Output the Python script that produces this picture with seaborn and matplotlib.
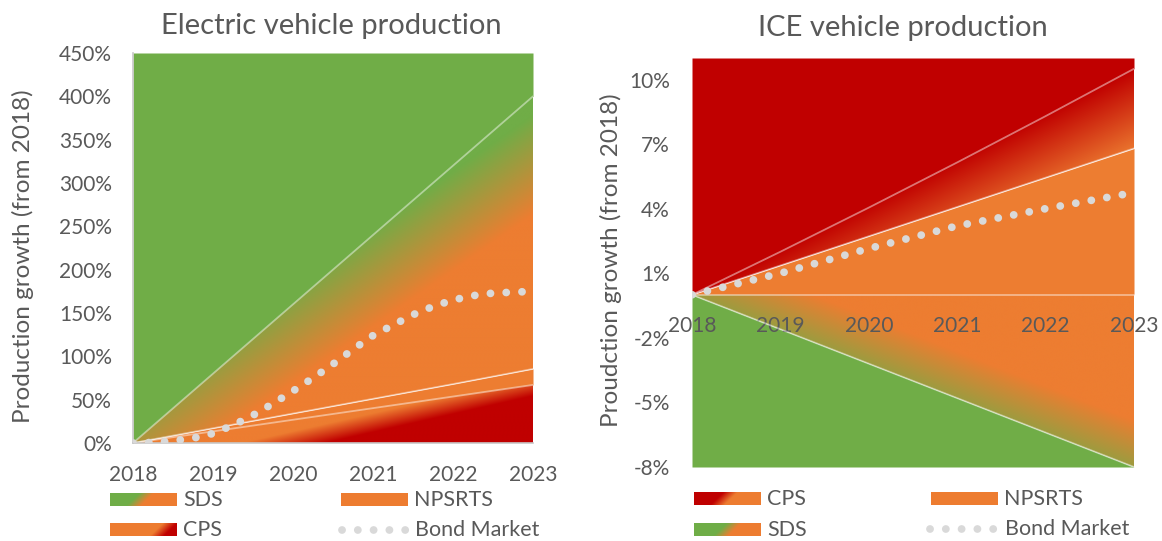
import numpy as np
import pandas as pd
import seaborn as sns
import matplotlib.pyplot as plt
from matplotlib.colors import to_rgb

# ---- data ----
years = [2018, 2019, 2020, 2021, 2022, 2023]

ev_sds = [0, 80, 160, 240, 320, 400]
ev_npsrts = [0, 17, 34, 51, 68, 85.5]
ev_cps = [0, 13.4, 26.8, 40.2, 53.6, 67]
# bond market curve, read at quarterly steps
ev_bond_years = np.linspace(2018, 2023, 21)
ev_bond = [0, 0.6, 2.5, 5.5, 11, 20.5, 32, 45.5, 60, 75, 91, 108, 124,
           136, 148, 157.5, 165, 170, 173, 174, 175]

ice_cps = [0, 2.0, 4.05, 6.15, 8.3, 10.5]
ice_npsrts = [0, 1.36, 2.72, 4.08, 5.44, 6.8]
ice_sds = [0, -1.6, -3.2, -4.8, -6.4, -8]
ice_bond = [0, 1.0, 2.15, 3.2, 4.0, 4.75]

ev_ticks = [0, 50, 100, 150, 200, 250, 300, 350, 400, 450]
ice_ticks = [-8, -5, -2, 1, 4, 7, 10]

GREEN = '#70AD47'
ORANGE = '#ED7D31'
RED = '#C00000'
DOTS = '#D9D9D9'
TXT = '#595959'
EDGE = (1, 1, 1, 0.45)

sns.set_theme(style='white')
plt.rcParams['font.family'] = ['Lato', 'DejaVu Sans']


def blend(c0, c1, t):
    a, b = np.array(to_rgb(c0)), np.array(to_rgb(c1))
    t = np.clip(t, 0, 1)[..., None]
    return a * (1 - t) + b * t


def gradient_band(ax, x, lo, hi, c0, c1, tfun, extent):
    # gradient image clipped to the area between two series
    gx, gy = np.meshgrid(np.linspace(extent[0], extent[1], 500),
                         np.linspace(extent[2], extent[3], 500))
    band = ax.fill_between(x, lo, hi, facecolor='none', edgecolor='none')
    im = ax.imshow(blend(c0, c1, tfun(gx, gy)), extent=extent, origin='lower',
                   aspect='auto', zorder=1, interpolation='bilinear')
    im.set_clip_path(band.get_paths()[0], transform=ax.transData)


DOT_STYLE = dict(color=DOTS, lw=5.6, linestyle=(0, (0.01, 2.02)), dash_capstyle='round')


def dotted(ax, x, y):
    sns.lineplot(x=x, y=y, ax=ax, zorder=5, **DOT_STYLE)


W, H = 1162, 541
fig = plt.figure(figsize=(W / 100, H / 100), dpi=100)
ax1 = fig.add_axes([133 / W, 1 - 443 / H, 400 / W, 390 / H])
ax2 = fig.add_axes([692 / W, 1 - 467 / H, 442 / W, 409 / H])

# ---- Electric vehicle production ----
ax1.fill_between(years, ev_sds, 450, color=GREEN, lw=0, zorder=1)
gradient_band(ax1, years, ev_npsrts, ev_sds, GREEN, ORANGE,
              lambda X, Y: (48 + 56 * (X - 2018) - 0.8667 * Y) / 100,
              (2018, 2023, 0, 450))
ax1.fill_between(years, ev_cps, ev_npsrts, color=ORANGE, lw=0, zorder=1)
gradient_band(ax1, years, 0, ev_cps, ORANGE, RED,
              lambda X, Y: (20.8 * (X - 2018) - Y - 28) / 22,
              (2018, 2023, 0, 70))
for s in (ev_sds, ev_npsrts, ev_cps):
    sns.lineplot(x=years, y=s, ax=ax1, color=EDGE, lw=1.3, zorder=3)
dotted(ax1, ev_bond_years, ev_bond)

ax1.set_xlim(2018, 2023)
ax1.set_ylim(0, 450)
ax1.set_yticks(ev_ticks, [f'{v}%' for v in ev_ticks])
ax1.set_xticks(years, [str(y) for y in years])
ax1.tick_params(axis='y', length=0, pad=15, labelsize=15, labelcolor=TXT)
ax1.tick_params(axis='x', length=0, pad=16, labelsize=15, labelcolor=TXT)
for side in ('top', 'right'):
    ax1.spines[side].set_visible(False)
for side in ('left', 'bottom'):
    ax1.spines[side].set_color('#C8C8C8')
    ax1.spines[side].set_linewidth(1.2)
    ax1.spines[side].set_zorder(4)
ax1.set_xlabel('')
ax1.set_ylabel('')

# ---- ICE vehicle production ----
ax2.fill_between(years, ice_cps, 11, color=RED, lw=0, zorder=1)
gradient_band(ax2, years, ice_npsrts, ice_cps, RED, ORANGE,
              lambda X, Y: ((X - 2018) / 5 - Y / 10.5) / 0.38,
              (2018, 2023, 0, 11))
ax2.fill_between(years, 0, ice_npsrts, color=ORANGE, lw=0, zorder=1)
gradient_band(ax2, years, ice_sds, 0, GREEN, ORANGE,
              lambda X, Y: ((X - 2018) / 5 + Y / 8 + 0.15) / 0.42,
              (2018, 2023, -8, 0))
ax2.fill_between(years, -8, ice_sds, color=GREEN, lw=0, zorder=1)
for s in (ice_cps, ice_npsrts, ice_sds):
    sns.lineplot(x=years, y=s, ax=ax2, color=EDGE, lw=1.3, zorder=3)
dotted(ax2, years, ice_bond)

ax2.set_xlim(2018, 2023)
ax2.set_ylim(-8, 11)
ax2.set_yticks(ice_ticks, [f'{v}%' for v in ice_ticks])
ax2.set_xticks(years, [str(y) for y in years])
ax2.set_axisbelow(False)
ax2.tick_params(axis='y', length=0, pad=16, labelsize=15, labelcolor=TXT)
ax2.tick_params(axis='x', length=0, pad=15, labelsize=15, labelcolor=TXT)
for side in ('top', 'right', 'left'):
    ax2.spines[side].set_visible(False)
ax2.spines['bottom'].set_position(('data', 0))
ax2.spines['bottom'].set_color(EDGE)
ax2.spines['bottom'].set_linewidth(1.3)
ax2.set_xlabel('')
ax2.set_ylabel('')

# ---- titles, axis titles, legends (overlay in pixel coords) ----
ov = fig.add_axes([0, 0, 1, 1], zorder=10)
ov.set_xlim(0, W)
ov.set_ylim(H, 0)
ov.axis('off')
ov.patch.set_alpha(0)

ov.text(331, 26, 'Electric vehicle production', ha='center', va='center',
        fontsize=21, color=TXT)
ov.text(903, 28, 'ICE vehicle production', ha='center', va='center',
        fontsize=21, color=TXT)
ov.text(23, 256, 'Production growth (from 2018)', rotation=90, ha='center',
        va='center', fontsize=17.5, color=TXT)
ov.text(611, 260, 'Proudction growth (from 2018)', rotation=90, ha='center',
        va='center', fontsize=17.5, color=TXT)


def swatch(x0, y0, c0, c1, centre, w=67, h=13):
    gx, gy = np.meshgrid(np.linspace(x0, x0 + w, 134), np.linspace(y0, y0 + h, 26))
    s = (gx - (x0 + centre * w)) + (gy - (y0 + h / 2))
    ov.imshow(blend(c0, c1, s / 14 + 0.5), extent=(x0, x0 + w, y0 + h, y0),
              aspect='auto', interpolation='bilinear')


def legend_dots(x0, y):
    ov.plot([x0, x0 + 66], [y, y], **DOT_STYLE)


legend_items = [
    # left chart
    (110, 493, GREEN, ORANGE, 0.45, 'SDS'),
    (341, 493, ORANGE, ORANGE, 0.5, 'NPSRTS'),
    (110, 523, ORANGE, RED, 0.8, 'CPS'),
    # right chart
    (694, 492, RED, ORANGE, 0.45, 'CPS'),
    (931, 492, ORANGE, ORANGE, 0.5, 'NPSRTS'),
    (694, 523, GREEN, ORANGE, 0.5, 'SDS'),
]
for x0, y0, c0, c1, centre, name in legend_items:
    swatch(x0, y0, c0, c1, centre)
    ov.text(x0 + 73, y0 + 7, name, va='center', fontsize=15.5, color=TXT)

legend_dots(342, 530)
ov.text(415, 530, 'Bond Market', va='center', fontsize=15.5, color=TXT)
legend_dots(930, 529)
ov.text(1005, 529, 'Bond Market', va='center', fontsize=15.5, color=TXT)
ov.set_xlim(0, W)
ov.set_ylim(H, 0)

fig.savefig('out.png', dpi=100)
